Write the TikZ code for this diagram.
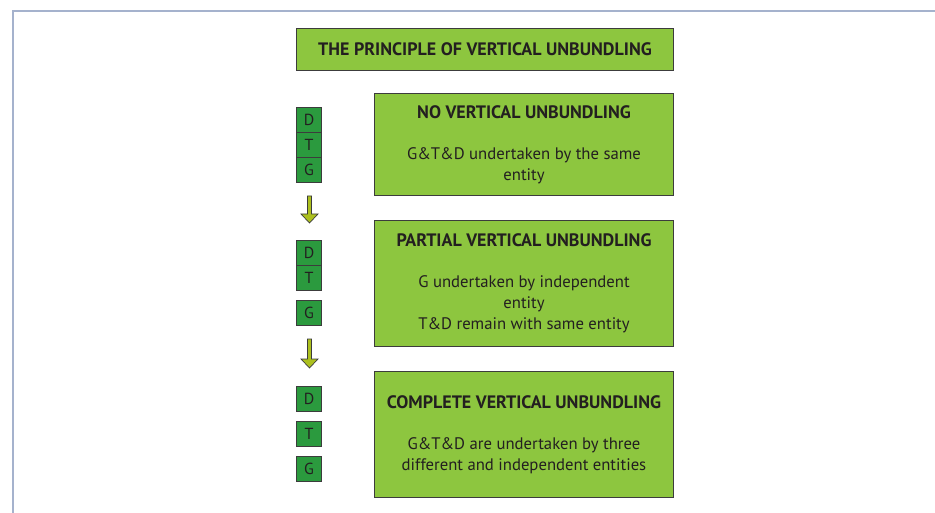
\documentclass[tikz,border=0pt]{standalone}
\usepackage{fontspec}
\setmainfont{PT Sans}
\usetikzlibrary{calc}
\definecolor{boxgreen}{RGB}{141,198,63}
\definecolor{sqgreen}{RGB}{43,154,62}
\definecolor{arrowfill}{RGB}{172,192,30}
\definecolor{framecol}{RGB}{165,178,205}
\definecolor{txt}{RGB}{35,31,32}
\definecolor{edge}{RGB}{60,60,60}
\tikzset{
  x=1pt,y=-1pt,
  titlebox/.style={draw=edge,line width=1pt,fill=boxgreen,minimum width=377pt,minimum height=42pt,anchor=north west,inner sep=0pt,text=txt,font=\fontsize{18}{21}\selectfont\bfseries},
  bigbox/.style={draw=edge,line width=1pt,fill=boxgreen,minimum width=299pt,anchor=north west,inner sep=0pt,align=center,text=txt,font=\fontsize{16.7}{21}\selectfont},
  sq/.style={draw=edge,line width=1pt,fill=sqgreen,minimum size=25pt,anchor=north west,inner sep=0pt,text=txt,font=\fontsize{16}{18}\selectfont},
  downarrow/.style={draw=edge,line width=0.7pt,fill=arrowfill}
}
\newcommand{\hd}[1]{{\fontsize{18}{21}\selectfont\bfseries #1}}
\newcommand{\downarr}[2]{% top point, bottom point
  \path (#1) coordinate (ta) (#2) coordinate (tb);
  \draw[downarrow] ($(ta)+(-2,0)$) -- ($(ta)+(2,0)$) -- ($(tb)+(2,-9)$) -- ($(tb)+(8.5,-9)$) -- (tb) -- ($(tb)+(-8.5,-9)$) -- ($(tb)+(-2,-9)$) -- cycle;
}
\begin{document}
\begin{tikzpicture}
\useasboundingbox (0,0) rectangle (935,513);
\fill[white] (0,0) rectangle (935,513);
\draw[framecol,line width=1.5pt] (13,520) -- (13,11) -- (940,11);

\node[titlebox] (title) at (296,28) {THE PRINCIPLE OF VERTICAL UNBUNDLING};

\node[bigbox,minimum height=102pt] (b1) at (374,93) {\hd{NO VERTICAL UNBUNDLING}\\[20pt]G\&T\&D undertaken by the same\\entity};
\node[bigbox,minimum height=126pt] (b2) at (374,220) {\hd{PARTIAL VERTICAL UNBUNDLING}\\[20pt]G undertaken by independent\\entity\\T\&D remain with same entity};
\node[bigbox,minimum height=126pt] (b3) at (374,371) {\hd{COMPLETE VERTICAL UNBUNDLING}\\[20pt]G\&T\&D are undertaken by three\\different and independent entities};

\node[sq] (d1) at (296,107) {D};
\node[sq] (t1) at (296,132) {T};
\node[sq] (g1) at (296,157) {G};

\node[sq] (d2) at (296,240) {D};
\node[sq] (t2) at (296,265) {T};
\node[sq] (g2) at (296,300) {G};

\node[sq] (d3) at (296,386) {D};
\node[sq] (t3) at (296,421) {T};
\node[sq] (g3) at (296,456) {G};

\coordinate (a1s) at ($(g1.south)+(0.5,13)$);
\coordinate (a1e) at ($(d2.north)+(0.5,-17)$);
\coordinate (a2s) at ($(g2.south)+(0.5,13)$);
\coordinate (a2e) at ($(d3.north)+(0.5,-18)$);
\downarr{a1s}{a1e}
\downarr{a2s}{a2e}
\end{tikzpicture}
\end{document}
